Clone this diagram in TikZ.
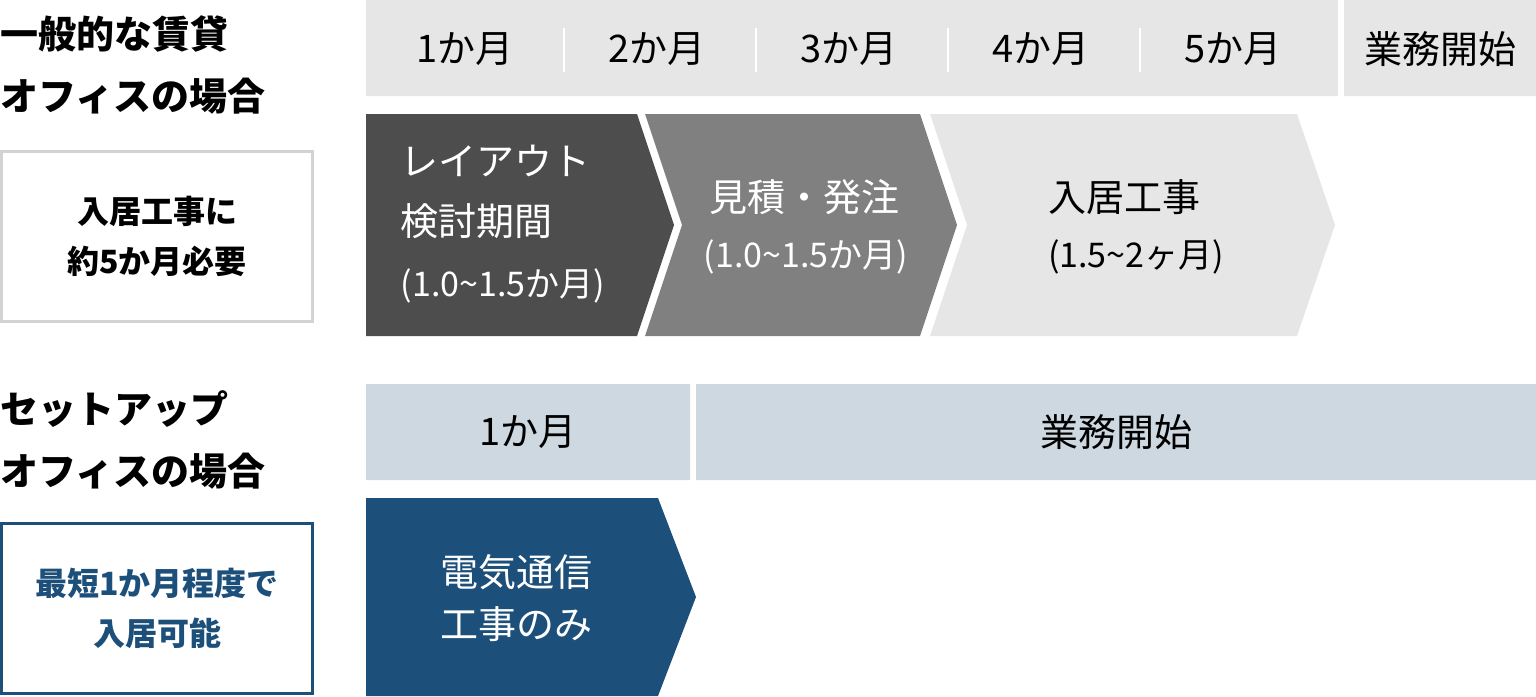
\documentclass[tikz,border=0pt]{standalone}
\usepackage{fontspec}
\setmainfont{Noto Sans CJK JP}
\usepackage{tikz}

\definecolor{barGray}{HTML}{E6E6E6}
\definecolor{stepDark}{HTML}{4D4D4D}
\definecolor{stepMid}{HTML}{808080}
\definecolor{barBlue}{HTML}{CDD8E1}
\definecolor{setupBlue}{HTML}{1C4F79}
\definecolor{boxGray}{HTML}{D3D3D3}

\tikzset{
	title/.style={anchor=west, align=left, inner sep=0, font=\bfseries\fontsize{38}{62}\selectfont},
	note/.style={draw, line width=3pt, minimum width=311pt, minimum height=170pt, align=center,
		font=\bfseries\fontsize{32}{50}\selectfont},
	month/.style={inner sep=0, font=\fontsize{38}{46}\selectfont},
	stepname/.style={inner sep=0, align=center, font=\fontsize{38}{60}\selectfont},
	term/.style={inner sep=0, font=\fontsize{34}{40}\selectfont}
}

\begin{document}
\begin{tikzpicture}[x=1pt, y=-1pt]
			\useasboundingbox (0,0) rectangle (1536,696);
			% general office
			\node[title] (general) at (0,65) {一般的な賃貸\\オフィスの場合};
			\node[note, draw=boxGray] (fivemonths) at (157,236.5) {入居工事に\\約5か月必要};
			\fill[barGray] (366,0) rectangle (1338,96) (1344,0) rectangle (1536,96);
			\foreach \x in {564,756,948,1140}
				\draw[white, line width=2pt] (\x,28) -- (\x,72);
			\foreach \m in {1,...,5}
				\node[month] (month\m) at ({273+192*\m},49) {\m か月};
			\node[month] (start) at (1440,49) {業務開始};
			% steps
			\fill[stepDark] (366,114) -- (637,114) -- (674,225) -- (637,336) -- (366,336) -- cycle;
			\fill[stepMid] (645,114) -- (920,114) -- (957,225) -- (920,336) -- (645,336) -- (682,225) -- cycle;
			\fill[barGray] (930,114) -- (1297,114) -- (1335,225) -- (1297,336) -- (930,336) -- (967,225) -- cycle;
			\node[stepname, white, align=left] (layout) at (503,224)
				{レイアウト\\検討期間\\[1pt]{\fontsize{34}{40}\selectfont(1.0\textasciitilde1.5か月)}};
			\node[stepname, white] (order) at (804,197) {見積・発注};
			\node[term, white] (orderterm) at (806,257) {(1.0\textasciitilde1.5か月)};
			\node[stepname] (works) at (1124,197) {入居工事};
			\node[term] (worksterm) at (1136,257) {(1.5\textasciitilde2ヶ月)};
			% setup office
			\node[title] (setup) at (0,440) {セットアップ\\オフィスの場合};
			\node[note, draw=setupBlue, text=setupBlue] (onemonth) at (157,608.5) {最短1か月程度で\\入居可能};
			\fill[barBlue] (366,384) rectangle (690,480) (696,384) rectangle (1536,480);
			\node[month] (setupmonth) at (528,432) {1か月};
			\node[month] (setupstart) at (1116,432) {業務開始};
			\fill[setupBlue] (366,498) -- (658,498) -- (696,597) -- (658,696) -- (366,696) -- cycle;
			\node[stepname, white, font=\fontsize{38}{52}\selectfont] (wiring) at (516,598) {電気通信\\工事のみ};
		\end{tikzpicture}
\end{document}
